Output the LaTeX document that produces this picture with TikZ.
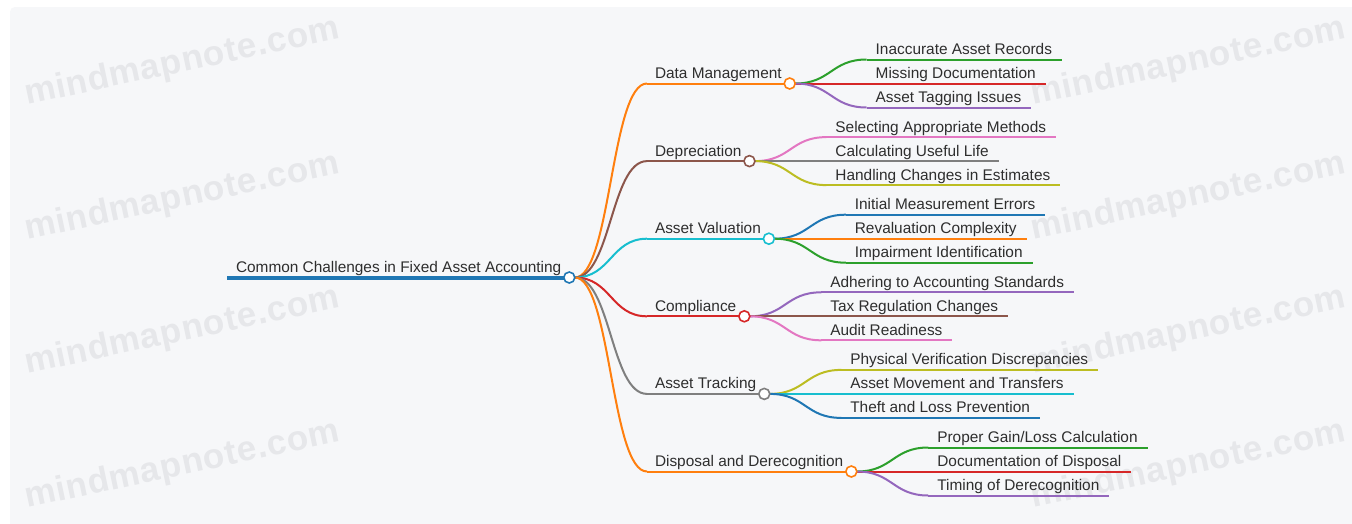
\documentclass[tikz,border=0pt]{standalone}
\usepackage{fontspec}
\setmainfont{Liberation Sans}
\newfontfamily\wmfont[LetterSpace=2]{Liberation Sans}
\usetikzlibrary{calc}

\definecolor{cblue}{HTML}{1F77B4}
\definecolor{corange}{HTML}{FF7F0E}
\definecolor{cgreen}{HTML}{2CA02C}
\definecolor{cred}{HTML}{D62728}
\definecolor{cpurple}{HTML}{9467BD}
\definecolor{cbrown}{HTML}{8C564B}
\definecolor{cpink}{HTML}{E377C2}
\definecolor{cgray}{HTML}{7F7F7F}
\definecolor{colive}{HTML}{BCBD22}
\definecolor{ccyan}{HTML}{17BECF}
\definecolor{ink}{HTML}{2E2E2E}
\definecolor{panel}{HTML}{F6F7F9}
\definecolor{wmgray}{HTML}{E6E7EA}

\tikzset{
  label/.style={anchor=base west, inner sep=0pt, outer sep=0pt,
    font=\fontsize{15.4}{18}\selectfont, text=ink},
  dot/.style={circle, fill=white, line width=1.6pt, minimum size=11pt, inner sep=0pt},
  wire/.style={line width=2pt},
  rootwire/.style={line width=4pt, cblue},
  wm/.style={anchor=base west, inner sep=0pt, rotate=12, text=wmgray,
    font=\wmfont\bfseries\fontsize{35}{40}\selectfont}
}

% cubic link with both control points at half the horizontal distance
\newcommand\curvelink[3]{%
  \draw[#1] let \p1=(#2), \p2=(#3) in
    (\p1) .. controls ({0.5*\x1+0.5*\x2},\y1) and ({0.5*\x1+0.5*\x2},\y2) .. (\p2);}

% second-level topic: name, line y, colour, text
\newcommand\branch[4]{%
  \coordinate (#1-s) at (647,#2);
  \node[label] (#1) at ($(#1-s)+(8,-5)$) {#4};
  \coordinate (#1-c) at ($(#1.base east)+(8,5)$);
  \coordinate (#1-o) at ($(#1-c)+(5.5,0)$);
  \curvelink{wire,#3}{root-o}{#1-s}
  \draw[wire,#3] (#1-s) -- (#1-c);}

% leaf topic: name, parent, vertical offset, colour, text
\newcommand\leaf[5]{%
  \coordinate (#1-s) at ($(#2-c)+(77,#3)$);
  \node[label] (#1) at ($(#1-s)+(9,-5)$) {#5};
  \coordinate (#1-e) at ($(#1.base east)+(10,5)$);
  \curvelink{wire,#4}{#2-o}{#1-s}
  \draw[wire,#4] (#1-s) -- (#1-e);}

\begin{document}
\begin{tikzpicture}[x=1pt, y=-1pt]
  \useasboundingbox (0,0) rectangle (1352,523);
  \fill[white] (0,0) rectangle (1352,523);
  \fill[panel, rounded corners=5pt] (10,7) rectangle (1365,535);

  % watermarks
  \node[wm] (wm1) at (27,105) {mindmapnote.com};
  \node[wm] (wm2) at (27,240) {mindmapnote.com};
  \node[wm] (wm3) at (27,374) {mindmapnote.com};
  \node[wm] (wm4) at (27,508) {mindmapnote.com};
  \node[wm] (wm5) at (1033,105) {mindmapnote.com};
  \node[wm] (wm6) at (1033,240) {mindmapnote.com};
  \node[wm] (wm7) at (1033,374) {mindmapnote.com};
  \node[wm] (wm8) at (1033,508) {mindmapnote.com};

  % central topic
  \coordinate (root-s) at (227,277.5);
  \node[label] (root) at (236,272.5) {Common Challenges in Fixed Asset Accounting};
  \coordinate (root-c) at ($(root.base east)+(8,5)$);
  \coordinate (root-o) at ($(root-c)+(5.5,0)$);
  \draw[rootwire] (root-s) -- (root-c);

  % main topics
  \branch{dm}{83.5}{corange}{Data Management}
  \branch{dep}{161.1}{cbrown}{Depreciation}
  \branch{av}{238.7}{ccyan}{Asset Valuation}
  \branch{comp}{316.3}{cred}{Compliance}
  \branch{at}{393.9}{cgray}{Asset Tracking}
  \branch{disp}{471.5}{corange}{Disposal and Derecognition}

  % sub-topics
  \leaf{dm1}{dm}{-24}{cgreen}{Inaccurate Asset Records}
  \leaf{dm2}{dm}{0}{cred}{Missing Documentation}
  \leaf{dm3}{dm}{24}{cpurple}{Asset Tagging Issues}

  \leaf{dep1}{dep}{-24}{cpink}{Selecting Appropriate Methods}
  \leaf{dep2}{dep}{0}{cgray}{Calculating Useful Life}
  \leaf{dep3}{dep}{24}{colive}{Handling Changes in Estimates}

  \leaf{av1}{av}{-24}{cblue}{Initial Measurement Errors}
  \leaf{av2}{av}{0}{corange}{Revaluation Complexity}
  \leaf{av3}{av}{24}{cgreen}{Impairment Identification}

  \leaf{comp1}{comp}{-24}{cpurple}{Adhering to Accounting Standards}
  \leaf{comp2}{comp}{0}{cbrown}{Tax Regulation Changes}
  \leaf{comp3}{comp}{24}{cpink}{Audit Readiness}

  \leaf{at1}{at}{-24}{colive}{Physical Verification Discrepancies}
  \leaf{at2}{at}{0}{ccyan}{Asset Movement and Transfers}
  \leaf{at3}{at}{24}{cblue}{Theft and Loss Prevention}

  \leaf{disp1}{disp}{-24}{cgreen}{Proper Gain/Loss Calculation}
  \leaf{disp2}{disp}{0}{cred}{Documentation of Disposal}
  \leaf{disp3}{disp}{24}{cpurple}{Timing of Derecognition}

  % fold markers on top of the lines
  \foreach \n/\c in {root/cblue, dm/corange, dep/cbrown, av/ccyan,
                     comp/cred, at/cgray, disp/corange}
    \node[dot, draw=\c] (\n-dot) at (\n-c) {};
\end{tikzpicture}
\end{document}
